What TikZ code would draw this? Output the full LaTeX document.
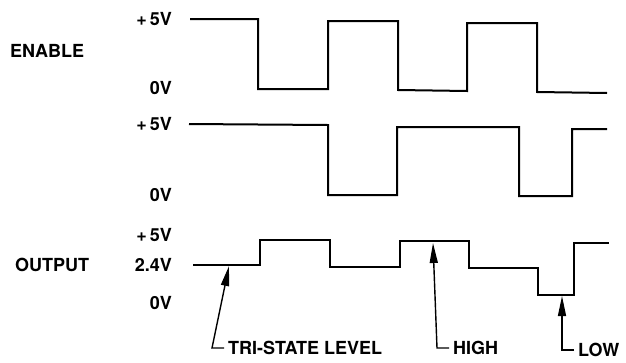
\documentclass[tikz,border=0pt]{standalone}
\usepackage{fontspec}
\setmainfont{TeX Gyre Heros}
\usetikzlibrary{arrows.meta}
\begin{document}
\begin{tikzpicture}[x=1pt,y=-1pt,
  wave/.style={line width=2pt, line join=miter},
  lbl/.style={font=\bfseries\fontsize{18}{18}\selectfont, inner sep=0pt},
  ptr/.style={line width=1.4pt, -{Triangle[length=20pt,width=8pt]}}]
\useasboundingbox (0,0) rectangle (626,362);
% labels
\node[lbl, anchor=west] (en) at (10,51) {ENABLE};
\node[lbl, anchor=east] (a5) at (172,19) {+\,5V};
\node[lbl, anchor=east] (a0) at (172,88) {0V};
\node[lbl, anchor=east] (b5) at (172,124) {+\,5V};
\node[lbl, anchor=east] (b0) at (172,195) {0V};
\node[lbl, anchor=west] (out) at (15,265) {OUTPUT};
\node[lbl, anchor=east] (c5) at (172,235) {+\,5V};
\node[lbl, anchor=east] (c24) at (172,265) {2.4V};
\node[lbl, anchor=east] (c0) at (172,303) {0V};
% waveforms
\draw[wave] (190,19) -- (258,19) -- (258,89) -- (328,89) -- (328,21) -- (398,21) -- (398,90) -- (467,91) -- (467,23) -- (537,23) -- (537,92) -- (607,93);
\draw[wave] (189,124) -- (328,125) -- (328,195) -- (397,195) -- (397,127) -- (519,127) -- (519,196) -- (572,196) -- (572,129) -- (607,129);
\draw[wave] (193,265) -- (260,265) -- (260,240) -- (330,240) -- (330,267) -- (400,267) -- (400,241) -- (469,241) -- (469,268) -- (538,268) -- (538,295) -- (574,295) -- (574,243) -- (609,243);
% pointer labels
\node[lbl, anchor=west] (tsl) at (228,348) {TRI-STATE LEVEL};
\node[lbl, anchor=west] (hi) at (453,348) {HIGH};
\node[lbl, anchor=west] (lo) at (578,350) {LOW};
\coordinate (t1) at (229,266);
\coordinate (t2) at (433,243);
\coordinate (t3) at (562,296);
\draw[ptr] ([xshift=-4pt]tsl.west) -- ++(-12,0) -- (t1);
\draw[ptr] ([xshift=-4pt]hi.west) -- ++(-12,0) -- (t2);
\draw[ptr] ([xshift=-4pt]lo.west) -- ++(-12,0) -- (t3);
\end{tikzpicture}
\end{document}
